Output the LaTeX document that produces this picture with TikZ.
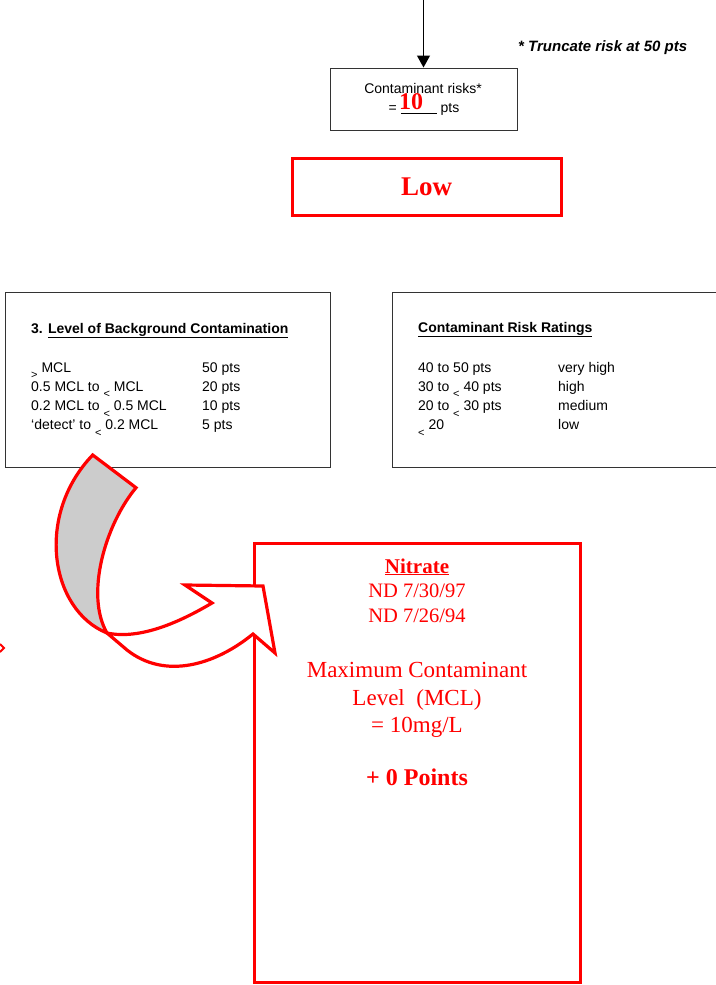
\documentclass[tikz,border=0pt]{standalone}
\usepackage{fontspec}
\setmainfont{Liberation Sans}
\newfontfamily\timesfont{Liberation Serif}
\usetikzlibrary{arrows.meta}
\definecolor{redline}{HTML}{FF0000}
\definecolor{bandgray}{HTML}{CCCCCC}
\newcommand{\lessmark}{\raisebox{-0.9ex}{\fontsize{11}{11}\selectfont <}}
\newcommand{\moremark}{\raisebox{-0.9ex}{\fontsize{11}{11}\selectfont >}}

\begin{document}
\begin{tikzpicture}[x=1pt, y=-1pt, >={Triangle[width=13pt,length=12pt]},
        panel/.style={draw=black!80, line width=1pt, minimum height=175pt, inner sep=0pt},
        redbox/.style={draw=redline, line width=3pt, inner sep=0pt},
        txt/.style={anchor=base west, inner sep=0pt, font=\fontsize{14}{16}\selectfont},
        serif/.style={anchor=base, inner sep=0pt, text=redline}]
    \useasboundingbox (0,0) rectangle (715,985);

    % total at the top
    \coordinate (feed) at (423.5,0);
    \node[panel, minimum width=187pt, minimum height=62pt] (risk) at (423.5,99) {};
    \draw[->, line width=1.2pt] (feed) -- (risk.north);
    \node[txt, anchor=base] (risktitle) at (423,93) {Contaminant risks*};
    \node[txt, anchor=base] (riskline) at (424,112) {= \underline{\hspace{36pt}} pts};
    \node[serif, font=\timesfont\bfseries\fontsize{24}{24}\selectfont] (riskpts) at (411,109) {10};
    \node[txt, font=\fontsize{15}{16}\selectfont\bfseries\itshape] (trunc) at (518,51) {* Truncate risk at 50 pts};

    \node[redbox, minimum width=269pt, minimum height=57pt, text=redline,
        font=\timesfont\bfseries\fontsize{27}{27}\selectfont] (rating) at (426.5,186.5) {Low};

    % point tables
    \node[panel, minimum width=325pt] (bgbox) at (167.5,379.5) {};
    \node[txt, font=\fontsize{14}{16}\selectfont\bfseries] (bgtitle) at (31,333) {3. \underline{Level of Background Contamination}};
    \foreach \lvl/\pts [count=\i] in {{\moremark\ MCL}/50 pts, {0.5 MCL to \lessmark\ MCL}/20 pts,
            {0.2 MCL to \lessmark\ 0.5 MCL}/10 pts, {`detect' to \lessmark\ 0.2 MCL}/5 pts} {
        \node[txt] (bglvl\i) at (31,352.7+19.3*\i) {\lvl};
        \node[txt] (bgpts\i) at (202,352.7+19.3*\i) {\pts};
    }

    \node[panel, minimum width=333pt] (ratebox) at (558.5,379.5) {};
    \node[txt, font=\fontsize{14}{16}\selectfont\bfseries] (ratetitle) at (418,332) {\underline{Contaminant Risk Ratings}};
    \foreach \rng/\word [count=\i] in {{40 to 50 pts}/very high, {30 to \lessmark\ 40 pts}/high,
            {20 to \lessmark\ 30 pts}/medium, {\lessmark\ 20}/low} {
        \node[txt] (raterng\i) at (418,352.7+19.3*\i) {\rng};
        \node[txt] (rateword\i) at (558,352.7+19.3*\i) {\word};
    }

    % nitrate result
    \node[redbox, minimum width=326pt, minimum height=439pt] (nitrate) at (417,763) {};
    \node[serif, font=\timesfont\bfseries\fontsize{21}{21}\selectfont] (ntitle) at (417,573) {\underline{Nitrate}};
    \node[serif, font=\timesfont\fontsize{20.5}{21}\selectfont] (nd1) at (417,597) {ND 7/30/97};
    \node[serif, font=\timesfont\fontsize{20.5}{21}\selectfont] (nd2) at (417,622) {ND 7/26/94};
    \node[serif, font=\timesfont\fontsize{23}{23}\selectfont] (mcl1) at (417,677) {Maximum Contaminant};
    \node[serif, font=\timesfont\fontsize{23}{23}\selectfont] (mcl2) at (417,705) {Level\ \ (MCL)};
    \node[serif, font=\timesfont\fontsize{23}{23}\selectfont] (mcl3) at (417,732) {= 10mg/L};
    \node[serif, font=\timesfont\bfseries\fontsize{24}{24}\selectfont] (npts) at (417,785) {+ 0 Points};

    % curved arrow
    \draw[draw=redline, fill=bandgray, line width=3.2pt] (92.7,455) -- (136,487.7)
        .. controls (105,525) and (85,595) .. (107,633)
        .. controls (50,610) and (35,515) .. (92.7,455) -- cycle;
    \draw[draw=redline, fill=white, line width=3.2pt] (107,633) -- (127,650)
        .. controls (165,680) and (215,665) .. (253,634) -- (275,653) -- (263,586) -- (185,585) -- (212,603)
        .. controls (180,622) and (140,640) .. (107,633) -- cycle;
    \draw[redline, line width=2pt] (0,644) -- (4,648) -- (0,652);
\end{tikzpicture}
\end{document}
